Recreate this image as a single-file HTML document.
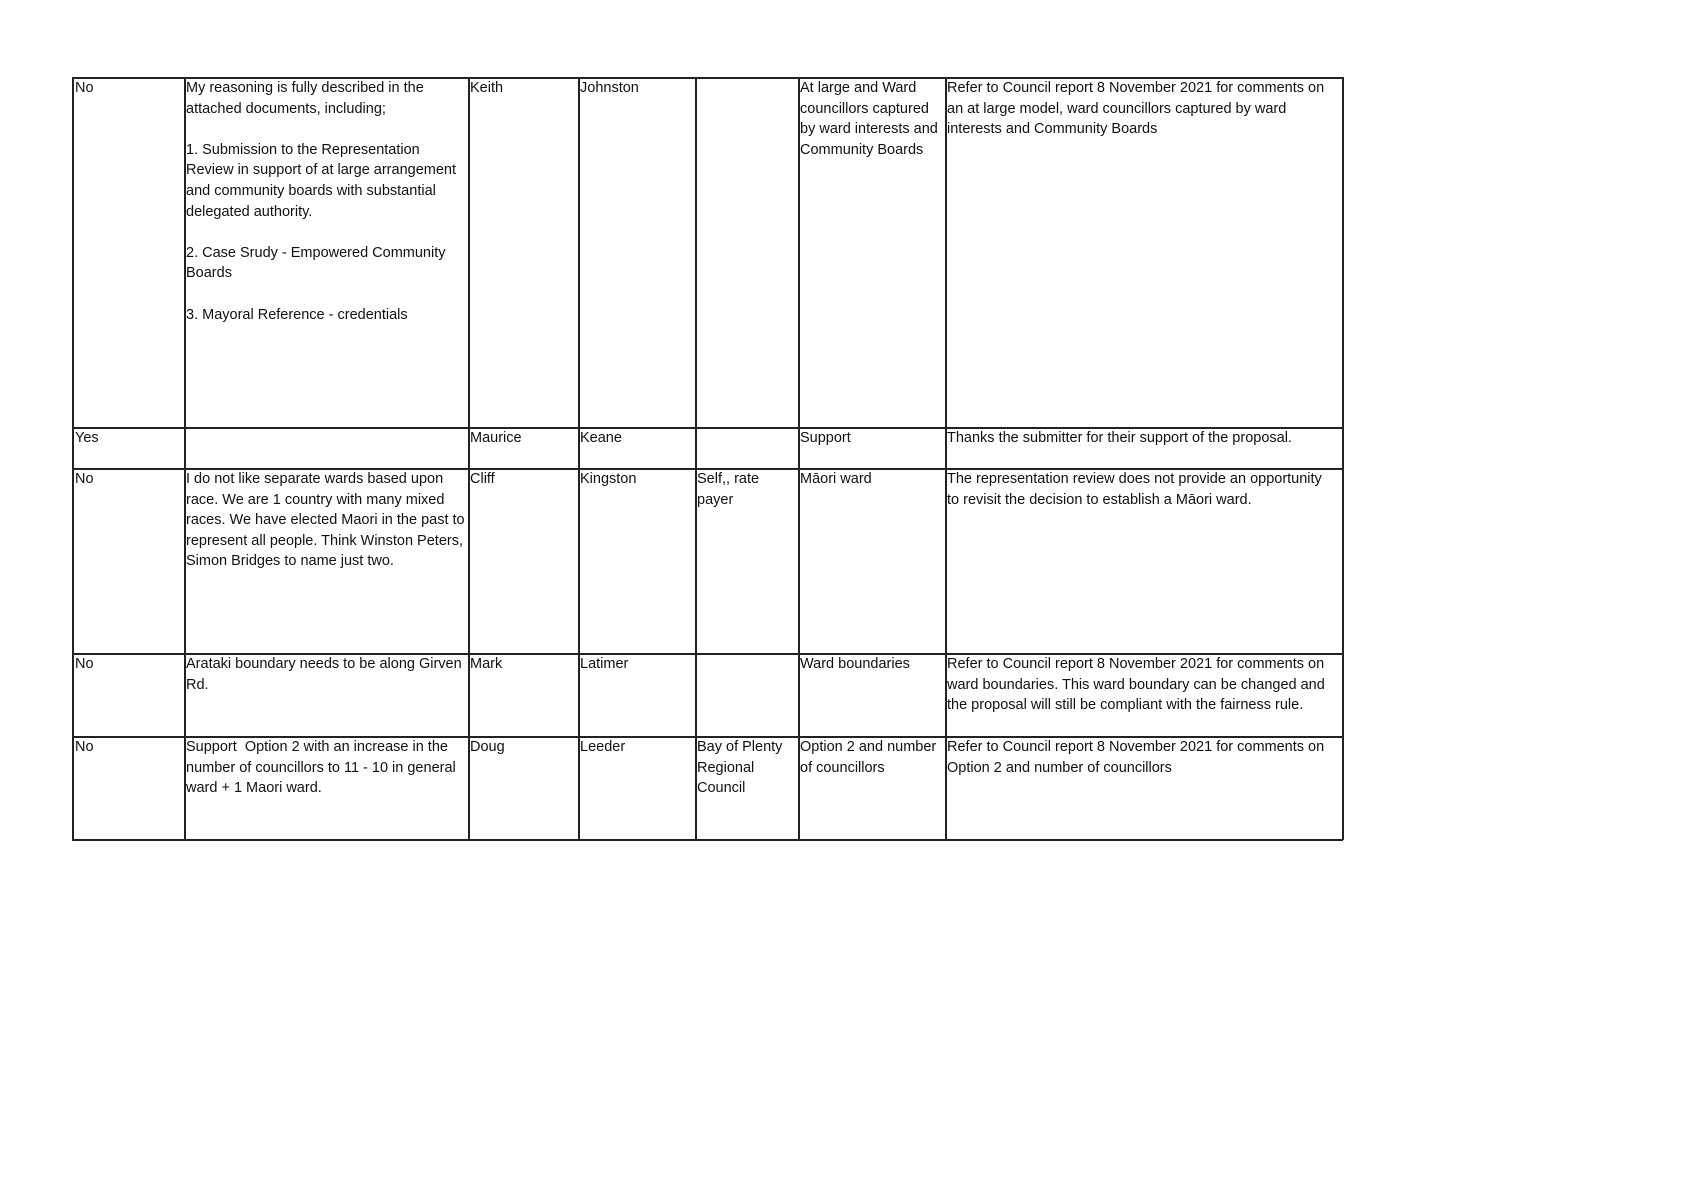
<!DOCTYPE html>
<html><head><meta charset="utf-8"><style>
body{margin:0;background:#fff;width:1689px;height:1194px;position:relative;overflow:hidden;font-family:"Liberation Sans",sans-serif;font-size:14.5px;color:#111}
.h{position:absolute;height:1.6px;background:#222;left:72px;width:1271px}
.v{position:absolute;width:1.6px;background:#222;top:77px;height:763px}
.t{position:absolute;line-height:20.6px;white-space:nowrap}
</style></head><body>
<div class="h" style="top:77px"></div>
<div class="h" style="top:427px"></div>
<div class="h" style="top:468px"></div>
<div class="h" style="top:653px"></div>
<div class="h" style="top:736px"></div>
<div class="h" style="top:839px"></div>
<div class="v" style="left:72px"></div>
<div class="v" style="left:184px"></div>
<div class="v" style="left:468px"></div>
<div class="v" style="left:578px"></div>
<div class="v" style="left:695px"></div>
<div class="v" style="left:798px"></div>
<div class="v" style="left:945px"></div>
<div class="v" style="left:1342px"></div>

<div class="t" style="left:75px;top:78px">No</div>
<div class="t" style="left:186px;top:78px">My reasoning is fully described in the<br>attached documents, including;<br><br>1. Submission to the Representation<br>Review in support of at large arrangement<br>and community boards with substantial<br>delegated authority.<br><br>2. Case Srudy - Empowered Community<br>Boards<br><br>3. Mayoral Reference - credentials</div>
<div class="t" style="left:470px;top:78px">Keith</div>
<div class="t" style="left:580px;top:78px">Johnston</div>
<div class="t" style="left:800px;top:78px">At large and Ward<br>councillors captured<br>by ward interests and<br>Community Boards</div>
<div class="t" style="left:947px;top:78px">Refer to Council report 8 November 2021 for comments on<br>an at large model, ward councillors captured by ward<br>interests and Community Boards</div>

<div class="t" style="left:75px;top:428px">Yes</div>
<div class="t" style="left:470px;top:428px">Maurice</div>
<div class="t" style="left:580px;top:428px">Keane</div>
<div class="t" style="left:800px;top:428px">Support</div>
<div class="t" style="left:947px;top:428px">Thanks the submitter for their support of the proposal.</div>

<div class="t" style="left:75px;top:469px">No</div>
<div class="t" style="left:186px;top:469px">I do not like separate wards based upon<br>race. We are 1 country with many mixed<br>races. We have elected Maori in the past to<br>represent all people. Think Winston Peters,<br>Simon Bridges to name just two.</div>
<div class="t" style="left:470px;top:469px">Cliff</div>
<div class="t" style="left:580px;top:469px">Kingston</div>
<div class="t" style="left:697px;top:469px">Self,, rate<br>payer</div>
<div class="t" style="left:800px;top:469px">Māori ward</div>
<div class="t" style="left:947px;top:469px">The representation review does not provide an opportunity<br>to revisit the decision to establish a Māori ward.</div>

<div class="t" style="left:75px;top:654px">No</div>
<div class="t" style="left:186px;top:654px">Arataki boundary needs to be along Girven<br>Rd.</div>
<div class="t" style="left:470px;top:654px">Mark</div>
<div class="t" style="left:580px;top:654px">Latimer</div>
<div class="t" style="left:800px;top:654px">Ward boundaries</div>
<div class="t" style="left:947px;top:654px">Refer to Council report 8 November 2021 for comments on<br>ward boundaries. This ward boundary can be changed and<br>the proposal will still be compliant with the fairness rule.</div>

<div class="t" style="left:75px;top:737px">No</div>
<div class="t" style="left:186px;top:737px">Support&nbsp; Option 2 with an increase in the<br>number of councillors to 11 - 10 in general<br>ward + 1 Maori ward.</div>
<div class="t" style="left:470px;top:737px">Doug</div>
<div class="t" style="left:580px;top:737px">Leeder</div>
<div class="t" style="left:697px;top:737px">Bay of Plenty<br>Regional<br>Council</div>
<div class="t" style="left:800px;top:737px">Option 2 and number<br>of councillors</div>
<div class="t" style="left:947px;top:737px">Refer to Council report 8 November 2021 for comments on<br>Option 2 and number of councillors</div>
</body></html>
